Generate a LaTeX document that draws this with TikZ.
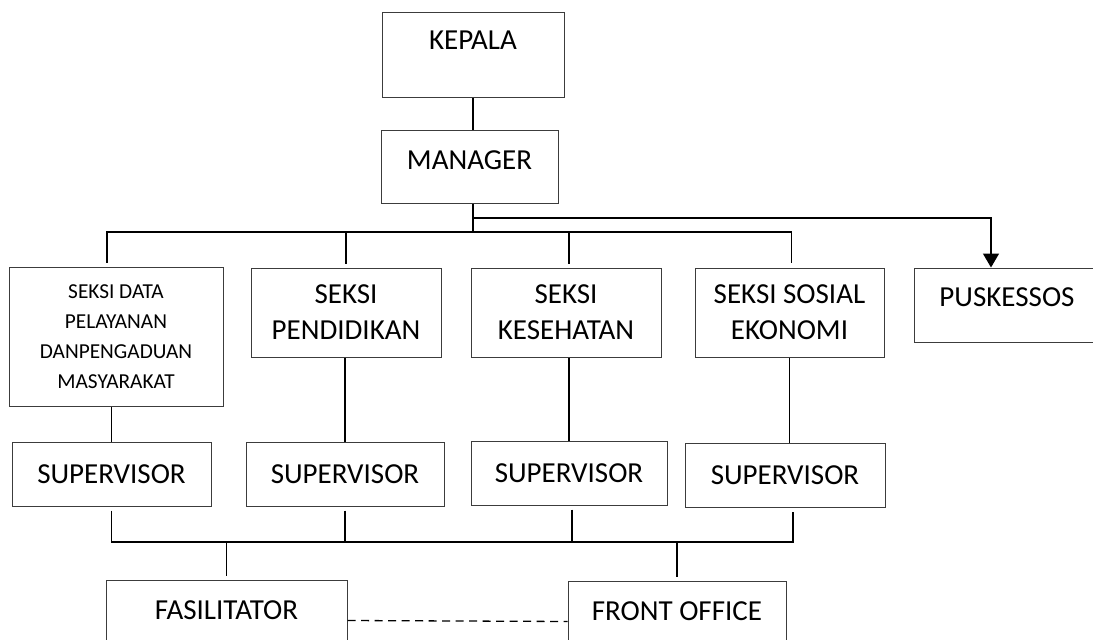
\documentclass[tikz,border=0pt]{standalone}
\usepackage{fontspec}
\setmainfont{Carlito}
\usetikzlibrary{arrows.meta}
\definecolor{E}{RGB}{60,60,60}

\tikzset{
  box/.style={draw=E, line width=1pt, align=center, inner sep=0pt, font=\fontsize{29}{36}\selectfont},
  small/.style={font=\fontsize{21.3}{30}\selectfont},
  link/.style={black, line width=1.5pt},
}

\begin{document}
\begin{tikzpicture}[x=1pt,y=-1pt]
  \path[use as bounding box, clip] (0,0) rectangle (1093,640);
  \node[box, minimum width=182pt, minimum height=85pt, text depth=29pt] (kepala) at (473,54.5) {KEPALA};
  \node[box, minimum width=177pt, minimum height=73pt, text depth=13pt] (manager) at (469.5,166.5) {MANAGER};
  \node[box, small, minimum width=214pt, minimum height=139pt] (s1) at (116,336.5) {SEKSI DATA\\PELAYANAN\\DANPENGADUAN\\MASYARAKAT};
  \node[box, minimum width=190pt, minimum height=89pt] (s2) at (346,312.5) {SEKSI\\PENDIDIKAN};
  \node[box, minimum width=190pt, minimum height=89pt] (s3) at (566,312.5) {SEKSI\\KESEHATAN};
  \node[box, minimum width=189pt, minimum height=89pt] (s4) at (789.5,312.5) {SEKSI SOSIAL\\EKONOMI};
  \node[box, minimum width=186pt, minimum height=74pt, text depth=16pt] (pus) at (1007,305) {PUSKESSOS};
  \node[box, minimum width=199pt, minimum height=64pt] (sup1) at (111.5,474) {SUPERVISOR};
  \node[box, minimum width=198pt, minimum height=64pt] (sup2) at (345,474) {SUPERVISOR};
  \node[box, minimum width=196pt, minimum height=64pt] (sup3) at (569,473) {SUPERVISOR};
  \node[box, minimum width=200pt, minimum height=64pt] (sup4) at (785,475) {SUPERVISOR};
  \node[box, minimum width=241pt, minimum height=85pt, text depth=25pt] (fas) at (226.5,622.5) {FASILITATOR};
  \node[box, minimum width=218pt, minimum height=85pt, text depth=25pt] (fo) at (677,623.5) {FRONT OFFICE};

  \coordinate (hub) at (473,232);
  \coordinate (fork) at (473,218);
  \coordinate (low) at (0,542);
  \coordinate (sup4b) at ([xshift=8pt]sup4.south);

  % top part
  \draw[link] (kepala.south) -- (kepala.south |- manager.north);
  \draw[link] (manager.south -| hub) -- (hub);
  \draw[link, shorten <=4pt, shorten >=5pt] ([xshift=-9pt]s1.north) |- (hub) -| ([xshift=2pt]s4.north);
  \draw[link, shorten <=4pt] (s2.north) -- (s2.north |- hub);
  \draw[link, shorten <=4pt] ([xshift=3pt]s3.north) -- ([xshift=3pt]s3.north |- hub);
  \draw[link, -{Triangle[width=16pt,length=14pt]}] (fork) -| ([xshift=-16pt]pus.north);

  % seksi to supervisor
  \foreach \i in {1,2,3}
    \draw[link] (sup\i.north) -- (sup\i.north |- s\i.south);
  \draw[link] (s4.south) -- (s4.south |- sup4.north);

  % supervisor to bottom
  \draw[link, shorten <=4pt, shorten >=4pt] (sup1.south) |- (low -| sup4b) -- (sup4b);
  \draw[link, shorten <=4pt] (sup2.south) -- (sup2.south |- low);
  \draw[link, shorten <=4pt] ([xshift=3pt]sup3.south) -- ([xshift=3pt]sup3.south |- low);
  \draw[link, shorten <=4pt] (fas.north) -- (fas.north |- low);
  \draw[link, shorten <=4pt] (fo.north) -- (fo.north |- low);
  \draw[black, line width=1.3pt, dash pattern=on 8pt off 5.5pt] ([yshift=2pt]fas.east) -- ([yshift=2pt]fo.west);
\end{tikzpicture}
\end{document}
